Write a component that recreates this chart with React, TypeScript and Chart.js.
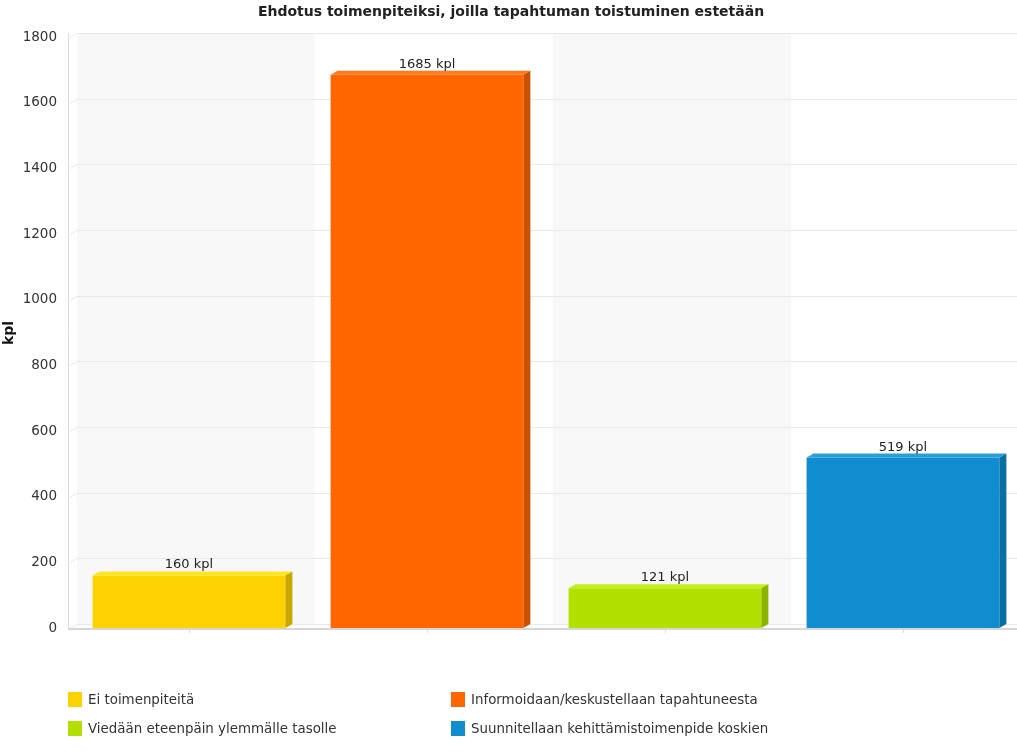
import React, { useEffect, useRef } from "react";
import { Chart, registerables } from "chart.js";

Chart.register(...registerables);

const chartTitle = "Ehdotus toimenpiteiksi, joilla tapahtuman toistuminen estetään";
const axisTitle = "kpl";
const unit = "kpl";
const categories = [
  "Ei toimenpiteitä",
  "Informoidaan/keskustellaan tapahtuneesta",
  "Viedään eteenpäin ylemmälle tasolle",
  "Suunnitellaan kehittämistoimenpide koskien",
];
const values = [160, 1685, 121, 519];
const frontColors = ["#FCD300", "#FF6600", "#B1E001", "#0F8DCE"];
const topColors = ["#FFE41A", "#FF7A1F", "#C2F01A", "#2A9EDB"];
const sideColors = ["#C9A800", "#C95100", "#8DB300", "#0C6FA3"];
const yTicks = [0, 200, 400, 600, 800, 1000, 1200, 1400, 1600, 1800];

const FONT = "'DejaVu Sans', Verdana, sans-serif";
const DX = 7;
const DY = 4;

const threeDPlugin = {
  id: "threeD",
  beforeDatasetsDraw(chart: any) {
    const { ctx, chartArea: a, scales } = chart;
    const y = scales.y;
    const n = categories.length;
    const cw = (a.right - a.left) / n;
    ctx.save();
    // alternating bands on back plane
    ctx.fillStyle = "#f8f8f8";
    for (let i = 0; i < n; i += 2) {
      ctx.fillRect(a.left + i * cw + DX, a.top - DY, cw, a.bottom - a.top);
    }
    // gridlines on back plane
    ctx.strokeStyle = "#e9e9e9";
    ctx.lineWidth = 1;
    for (const v of yTicks) {
      const py = Math.round(y.getPixelForValue(v)) + 0.5;
      ctx.beginPath();
      ctx.moveTo(a.left, py);
      ctx.lineTo(a.left + DX, py - DY);
      ctx.lineTo(a.right + DX, py - DY);
      ctx.stroke();
    }
    // left axis line
    ctx.strokeStyle = "#dcdcdc";
    ctx.beginPath();
    ctx.moveTo(a.left - 1.5, a.top - DY);
    ctx.lineTo(a.left - 1.5, a.bottom);
    ctx.stroke();
    // front baseline
    ctx.strokeStyle = "#d6d6d6";
    ctx.lineWidth = 2;
    ctx.beginPath();
    ctx.moveTo(a.left - 2, a.bottom + 1);
    ctx.lineTo(a.right, a.bottom + 1);
    ctx.stroke();
    // tick marks at category centers
    ctx.lineWidth = 1;
    ctx.strokeStyle = "#dddddd";
    for (let i = 0; i < n; i++) {
      const px = Math.round(scales.x.getPixelForValue(i)) + 0.5;
      ctx.beginPath();
      ctx.moveTo(px, a.bottom + 2);
      ctx.lineTo(px, a.bottom + 5);
      ctx.stroke();
    }
    ctx.restore();
  },
  afterDatasetsDraw(chart: any) {
    const { ctx } = chart;
    const meta = chart.getDatasetMeta(0);
    ctx.save();
    meta.data.forEach((bar: any, i: number) => {
      const { x, y, base, width } = bar.getProps(["x", "y", "base", "width"], true);
      const l = x - width / 2;
      const r = x + width / 2;
      // top face
      ctx.fillStyle = topColors[i];
      ctx.beginPath();
      ctx.moveTo(l, y);
      ctx.lineTo(l + DX, y - DY);
      ctx.lineTo(r + DX, y - DY);
      ctx.lineTo(r, y);
      ctx.closePath();
      ctx.fill();
      // side face
      ctx.fillStyle = sideColors[i];
      ctx.beginPath();
      ctx.moveTo(r, y);
      ctx.lineTo(r + DX, y - DY);
      ctx.lineTo(r + DX, base - DY);
      ctx.lineTo(r, base);
      ctx.closePath();
      ctx.fill();
      // value label
      ctx.fillStyle = "#222";
      ctx.font = `13px ${FONT}`;
      ctx.textAlign = "center";
      ctx.textBaseline = "alphabetic";
      ctx.fillText(`${values[i]} ${unit}`, x, y - 7);
    });
    // chart title
    ctx.fillStyle = "#222";
    ctx.font = `bold 14px ${FONT}`;
    ctx.textAlign = "center";
    ctx.textBaseline = "middle";
    ctx.fillText(chartTitle, 511, 12);
    // y axis title
    ctx.save();
    ctx.translate(9, 333);
    ctx.rotate(-Math.PI / 2);
    ctx.font = `bold 14px ${FONT}`;
    ctx.fillStyle = "#111";
    ctx.fillText(axisTitle, 0, 0);
    ctx.restore();
    ctx.restore();
  },
};

export default function App() {
  const ref = useRef<HTMLCanvasElement>(null);
  useEffect(() => {
    if (!ref.current) return;
    const chart = new Chart(ref.current, {
      type: "bar",
      data: {
        labels: categories,
        datasets: [
          {
            data: values,
            backgroundColor: frontColors,
            borderWidth: 0,
            barPercentage: 0.81,
            categoryPercentage: 1,
          },
        ],
      },
      options: {
        responsive: false,
        animation: false,
        devicePixelRatio: 1,
        layout: { padding: { top: 37, bottom: 124, left: 0, right: 0 } },
        plugins: {
          legend: { display: false },
          tooltip: { enabled: false },
          title: { display: false },
        },
        scales: {
          x: {
            type: "category",
            grid: { display: false },
            border: { display: false },
            ticks: { display: false },
            afterFit: (s: any) => {
              s.height = 0;
            },
          },
          y: {
            min: 0,
            max: 1800,
            grid: { display: false, drawTicks: false },
            border: { display: false },
            ticks: {
              stepSize: 200,
              padding: 13,
              color: "#333",
              font: { family: FONT, size: 13.5 },
              callback: (v: any) => String(v),
            },
            afterFit: (s: any) => {
              s.width = 70;
            },
          },
        },
      },
      plugins: [threeDPlugin],
    } as any);
    return () => chart.destroy();
  }, []);

  const legendPos = [
    { left: 68, top: 692 },
    { left: 451, top: 692 },
    { left: 68, top: 721 },
    { left: 451, top: 721 },
  ];

  return (
    <div
      style={{
        position: "fixed",
        left: 0,
        top: 0,
        width: 1017,
        height: 752,
        overflow: "hidden",
        background: "#fff",
      }}
    >
      <canvas ref={ref} width={1022} height={752} style={{ display: "block", width: 1022, height: 752 }} />
      {categories.map((c, i) => (
        <div
          key={c}
          style={{
            position: "absolute",
            left: legendPos[i].left,
            top: legendPos[i].top,
            display: "flex",
            alignItems: "center",
            fontFamily: FONT,
            fontSize: 13.4,
            color: "#333",
            whiteSpace: "nowrap",
          }}
        >
          <span
            style={{
              display: "inline-block",
              width: 14,
              height: 15,
              background: frontColors[i],
              marginRight: 6,
            }}
          />
          <span>{c}</span>
        </div>
      ))}
    </div>
  );
}
